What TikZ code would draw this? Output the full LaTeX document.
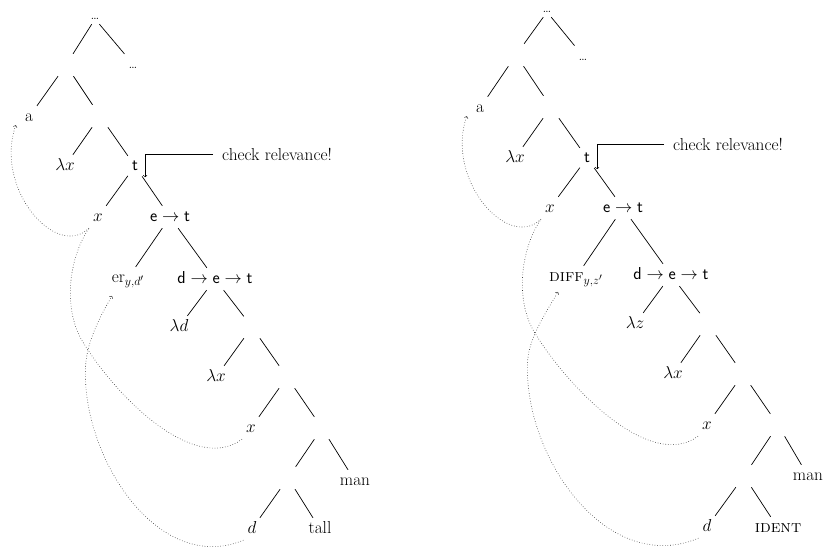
\documentclass[tikz,border=0pt]{standalone}
\usetikzlibrary{calc}
\newcommand\tdots{{\fontsize{15}{17}\selectfont.\kern-1.3pt.\kern-1.3pt.}}
\begin{document}
\begin{tikzpicture}[x=1pt,y=-1pt,
  every node/.style={font=\LARGE},
  lab/.style={inner xsep=4pt, inner ysep=3pt, text height=12pt, text depth=4pt},
  toplab/.style={inner xsep=4pt, inner ysep=1pt, text height=4pt, text depth=4pt},
  emp/.style={minimum width=16pt, minimum height=22pt, inner sep=0pt},
  br/.style={line width=0.7pt},
  mv/.style={dotted, line width=0.6pt, black!80},
  note/.style={anchor=base west, inner xsep=9pt, inner ysep=0pt},
  callout/.style={->, line width=0.6pt}]
\useasboundingbox (0,0) rectangle (830,557);
% ---------------- left tree ----------------
\node[toplab] (Lr) at (95,19) {\tdots};
\node[emp] (L1) at (66,65) {};
\node[lab] (L1d) at (133,64) {\tdots};
\node[lab] (La) at (29,117) {a};
\node[emp] (L2) at (100,116) {};
\node[lab] (Llx) at (65,166) {$\lambda x$};
\node[lab] (Lt) at (135,166) {\textsf{t}};
\node[lab] (Lx1) at (98,217) {$x$};
\node[lab] (Let) at (170,217) {$\mathsf{e}\rightarrow\mathsf{t}$};
\node[lab] (Ler) at (128,278) {er$_{y,d'}$};
\node[lab] (Ldet) at (215,279) {$\mathsf{d}\rightarrow\mathsf{e}\rightarrow\mathsf{t}$};
\node[lab] (Lld) at (179,327) {$\lambda d$};
\node[emp] (L6) at (252,327) {};
\node[lab] (Llx2) at (216,377) {$\lambda x$};
\node[emp] (L7) at (287,377) {};
\node[lab] (Lx2) at (251,428) {$x$};
\node[emp] (L8) at (322,428) {};
\node[emp] (L9) at (288,478) {};
\node[lab] (Lman) at (355,481) {man};
\node[lab] (Ld) at (252,529) {$d$};
\node[lab] (Ltall) at (320,529) {tall};
\draw[br] (Lr)--(L1) (Lr)--(L1d) (L1)--(La) (L1)--(L2) (L2)--(Llx) (L2)--(Lt)
  (Lt)--(Lx1) (Lt)--(Let) (Let)--(Ler) (Let)--(Ldet) (Ldet)--(Lld) (Ldet)--(L6)
  (L6)--(Llx2) (L6)--(L7) (L7)--(Lx2) (L7)--(L8) (L8)--(L9) (L8)--(Lman)
  (L9)--(Ld) (L9)--(Ltall);
\node[note] (Lcr) at (213,160) {check relevance!};
\coordinate (Ltip) at ($(Lt.south east)+(3,0)$);
\draw[callout] (Lcr.west) -| (Ltip);
\draw[mv,->] (Lx1.south west) .. controls +(-33,32) and +(-22,63) .. ($(La.south west)+(-5,-3)$);
\draw[mv] (Lx2.south west) .. controls +(-47,35) and +(35,57) .. ($(Lx2.south west)+(-159,-97)$)
  .. controls +(-20,-32) and +(-21,31) .. (Lx1.south west);
\draw[mv,->] (Ld.south west) .. controls +(-84,35) and +(-2,90) .. ($(Ld.south west)+(-158,-170)$)
  .. controls +(0,-25) and +(-13,22) .. ($(Ler.center)+(-16,18)$);
% ---------------- right tree ----------------
\node[toplab] (Rr) at (547,12) {\tdots};
\node[emp] (R1) at (516,55) {};
\node[lab] (R1d) at (583,56) {\tdots};
\node[lab] (Ra) at (480,108) {a};
\node[emp] (R2) at (551,107) {};
\node[lab] (Rlx) at (515,158) {$\lambda x$};
\node[lab] (Rt) at (587,158) {\textsf{t}};
\node[lab] (Rx1) at (550,208) {$x$};
\node[lab] (Ret) at (623,208) {$\mathsf{e}\rightarrow\mathsf{t}$};
\node[lab] (Rdiff) at (576,277) {\textsc{diff}$_{y,z'}$};
\node[lab] (Rdet) at (671,275) {$\mathsf{d}\rightarrow\mathsf{e}\rightarrow\mathsf{t}$};
\node[lab] (Rlz) at (635,324) {$\lambda z$};
\node[emp] (R6) at (708,324) {};
\node[lab] (Rlx2) at (673,374) {$\lambda x$};
\node[emp] (R7) at (743,374) {};
\node[lab] (Rx2) at (707,425) {$x$};
\node[emp] (R8) at (778,425) {};
\node[emp] (R9) at (744,476) {};
\node[lab] (Rman) at (808,476) {man};
\node[lab] (Rd) at (707,527) {$d$};
\node[lab] (Rid) at (778,528) {\textsc{ident}};
\draw[br] (Rr)--(R1) (Rr)--(R1d) (R1)--(Ra) (R1)--(R2) (R2)--(Rlx) (R2)--(Rt)
  (Rt)--(Rx1) (Rt)--(Ret) (Ret)--(Rdiff) (Ret)--(Rdet) (Rdet)--(Rlz) (Rdet)--(R6)
  (R6)--(Rlx2) (R6)--(R7) (R7)--(Rx2) (R7)--(R8) (R8)--(R9) (R8)--(Rman)
  (R9)--(Rd) (R9)--(Rid);
\node[note] (Rcr) at (664,150) {check relevance!};
\coordinate (Rtip) at ($(Rt.south east)+(3,0)$);
\draw[callout] (Rcr.west) -| (Rtip);
\draw[mv,->] (Rx1.south west) .. controls +(-33,32) and +(-22,63) .. ($(Ra.south west)+(-5,-3)$);
\draw[mv] (Rx2.south west) .. controls +(-47,35) and +(35,57) .. ($(Rx2.south west)+(-163,-103)$)
  .. controls +(-20,-32) and +(-21,31) .. (Rx1.south west);
\draw[mv,->] (Rd.south west) .. controls +(-90,38) and +(-2,95) .. ($(Rd.south west)+(-171,-173)$)
  .. controls +(0,-25) and +(-13,22) .. ($(Rdiff.center)+(-18,15)$);
\end{tikzpicture}
\end{document}
